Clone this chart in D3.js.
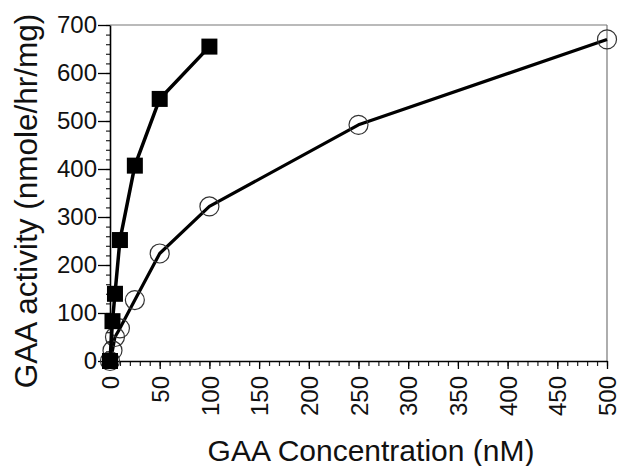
<!DOCTYPE html>
<html>
<head>
<meta charset="utf-8">
<script src="https://cdn.jsdelivr.net/npm/d3@7"></script>
<style>
  body { margin: 0; background: #fff; }
  svg { font-family: "Liberation Sans", Arial, sans-serif; }
</style>
</head>
<body>
<div id="chart"></div>
<script>
// data
const squareConc = [0, 2.5, 5, 10, 25, 50, 100];
const squareActivity = [0, 83, 140, 252, 407, 546, 655];

const circleConc = [0, 2.5, 5, 10, 25, 50, 100, 250, 500];
const circleActivity = [0, 22, 50, 68, 127, 224, 322, 492, 670];

const xTicks = [0, 50, 100, 150, 200, 250, 300, 350, 400, 450, 500];
const yTicks = [0, 100, 200, 300, 400, 500, 600, 700];

const WIDTH = 621;
const HEIGHT = 466;
const margin = { top: 25, right: 14, bottom: 105, left: 110 };

const WIDTHVIS = WIDTH - margin.left - margin.right;
const HEIGHTVIS = HEIGHT - margin.top - margin.bottom;

const xScale = d3.scaleLinear().domain([0, 500]).range([0, WIDTHVIS]);
const yScale = d3.scaleLinear().domain([0, 700]).range([HEIGHTVIS, 0]);

const svg = d3.select("#chart")
    .append("svg")
    .attr("width", WIDTH)
    .attr("height", HEIGHT);

const g = svg.append("g")
    .attr("transform", `translate(${margin.left}, ${margin.top})`);

// frame: top and right in thin gray
g.append("line")
    .attr("x1", 0).attr("x2", WIDTHVIS)
    .attr("y1", 0).attr("y2", 0)
    .attr("stroke", "#777").attr("stroke-width", 1.2);
g.append("line")
    .attr("x1", WIDTHVIS).attr("x2", WIDTHVIS)
    .attr("y1", 0).attr("y2", HEIGHTVIS)
    .attr("stroke", "#777").attr("stroke-width", 1.2);

// minor ticks
g.append("g")
    .call(d3.axisLeft(yScale).tickValues(d3.range(0, 701, 20)).tickSize(4).tickFormat(""))
    .call(s => s.select(".domain").remove())
    .selectAll("line").attr("stroke", "#222").attr("stroke-width", 1.2);

g.append("g")
    .attr("transform", `translate(0, ${HEIGHTVIS})`)
    .call(d3.axisBottom(xScale).tickValues(d3.range(0, 501, 10)).tickSize(5).tickFormat(""))
    .call(s => s.select(".domain").remove())
    .selectAll("line").attr("stroke", "#222").attr("stroke-width", 1.2);

// major axes
const ejeY = g.append("g")
    .call(d3.axisLeft(yScale).tickValues(yTicks).tickSize(12).tickSizeOuter(0).tickPadding(1));
ejeY.select(".domain").attr("stroke", "#000").attr("stroke-width", 1.6);
ejeY.selectAll("line").attr("stroke", "#000").attr("stroke-width", 1.3);
ejeY.selectAll("text")
    .attr("font-size", "24px")
    .attr("fill", "#111")
    .attr("font-family", "'Liberation Sans', Arial, sans-serif");

const ejeX = g.append("g")
    .attr("transform", `translate(0, ${HEIGHTVIS})`)
    .call(d3.axisBottom(xScale).tickValues(xTicks).tickSize(8).tickSizeOuter(0));
ejeX.select(".domain").attr("stroke", "#000").attr("stroke-width", 1.6);
ejeX.selectAll("line").attr("stroke", "#000").attr("stroke-width", 1.3);
ejeX.selectAll("text")
    .attr("font-size", "24px")
    .attr("fill", "#111")
    .attr("font-family", "'Liberation Sans', Arial, sans-serif")
    .attr("transform", "rotate(-90)")
    .attr("text-anchor", "end")
    .attr("x", -15)
    .attr("y", 0)
    .attr("dy", "0.36em");

// axis titles
svg.append("text")
    .attr("text-anchor", "middle")
    .attr("x", 371)
    .attr("y", 461)
    .attr("font-size", "30px")
    .attr("fill", "#111")
    .text("GAA Concentration (nM)");

svg.append("text")
    .attr("text-anchor", "middle")
    .attr("transform", "translate(37, 201) rotate(-90)")
    .attr("font-size", "31.5px")
    .attr("fill", "#111")
    .text("GAA activity (nmole/hr/mg)");

// series
const circleData = circleConc.map((c, i) => ({ x: c, y: circleActivity[i] }));
const squareData = squareConc.map((c, i) => ({ x: c, y: squareActivity[i] }));

const linea = d3.line()
    .x(d => xScale(d.x))
    .y(d => yScale(d.y));

g.append("path")
    .datum(circleData)
    .attr("d", linea)
    .attr("fill", "none")
    .attr("stroke", "#000")
    .attr("stroke-width", 3.2)
    .attr("stroke-linejoin", "round");

g.selectAll("circle.open")
    .data(circleData)
    .join("circle")
    .attr("class", "open")
    .attr("cx", d => xScale(d.x))
    .attr("cy", d => yScale(d.y))
    .attr("r", 9.5)
    .attr("fill", "none")
    .attr("stroke", "#333")
    .attr("stroke-width", 1.2);

g.append("path")
    .datum(squareData)
    .attr("d", linea)
    .attr("fill", "none")
    .attr("stroke", "#000")
    .attr("stroke-width", 3.5)
    .attr("stroke-linejoin", "round");

const side = 16;
g.selectAll("rect.filled")
    .data(squareData)
    .join("rect")
    .attr("class", "filled")
    .attr("x", d => xScale(d.x) - side / 2)
    .attr("y", d => yScale(d.y) - side / 2)
    .attr("width", side)
    .attr("height", side)
    .attr("fill", "#000");
</script>
</body>
</html>
